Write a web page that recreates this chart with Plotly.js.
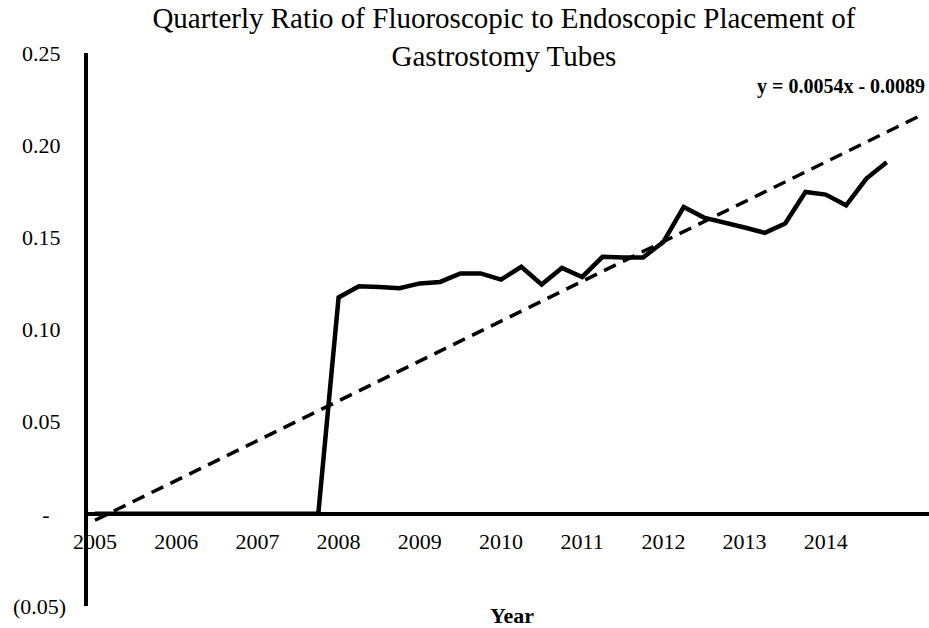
<!DOCTYPE html>
<html>
<head>
<meta charset="utf-8">
<script src="https://cdn.plot.ly/plotly-3.0.1.min.js"></script>
<style>html,body{margin:0;padding:0;background:#fff;}#chart{width:929px;height:628px;}</style>
</head>
<body>
<div id="chart"></div>
<script>
// Quarterly periods: 2005 Q1 .. 2014 Q4
const startYear = 2005;
const quarterLabels = [];
for (let y = 2005; y <= 2014; y++) for (let q = 1; q <= 4; q++) quarterLabels.push(y + " Q" + q);

// Ratio of fluoroscopic to endoscopic placement, per quarter
const ratio2005 = [0, 0, 0, 0];
const ratio2006 = [0, 0, 0, 0];
const ratio2007 = [0, 0, 0, 0];
const ratio2008 = [0.1174, 0.1235, 0.1230, 0.1224];
const ratio2009 = [0.1250, 0.1258, 0.1304, 0.1304];
const ratio2010 = [0.1271, 0.1340, 0.1244, 0.1334];
const ratio2011 = [0.1285, 0.1394, 0.1391, 0.1391];
const ratio2012 = [0.1475, 0.1665, 0.1607, 0.1583];
const ratio2013 = [0.1553, 0.1524, 0.1575, 0.1746];
const ratio2014 = [0.1732, 0.1674, 0.1819, 0.1908];
const ratios = [].concat(ratio2005, ratio2006, ratio2007, ratio2008, ratio2009,
                         ratio2010, ratio2011, ratio2012, ratio2013, ratio2014);

// Linear trendline as shown: y = 0.0054x - 0.0089 (x = period index), forecast forward
const trendSlope = 0.0054;
const trendIntercept = -0.0089;
const trendPeriods = [1, 41.7];

const yTickVals = [-0.05, 0, 0.05, 0.10, 0.15, 0.20, 0.25];
const yTickText = ["(0.05)", "-\u00A0\u00A0\u00A0", "0.05\u00A0", "0.10\u00A0", "0.15\u00A0", "0.20\u00A0", "0.25\u00A0"];
const xTickVals = [2005, 2006, 2007, 2008, 2009, 2010, 2011, 2012, 2013, 2014];
const xTickText = ["2005", "2006", "2007", "2008", "2009", "2010", "2011", "2012", "2013", "2014"];

const periodToX = n => startYear + (n - 1) / 4;
const xs = quarterLabels.map((_, i) => periodToX(i + 1));

const serif = "Liberation Serif, Times New Roman, serif";

const traces = [
  {
    x: trendPeriods.map(periodToX),
    y: trendPeriods.map(n => trendSlope * n + trendIntercept),
    mode: "lines",
    line: {color: "#000", width: 3.5, dash: "13px,8px"},
    hoverinfo: "skip",
    showlegend: false
  },
  {
    x: xs,
    y: ratios,
    text: quarterLabels,
    mode: "lines",
    line: {color: "#000", width: 4.5},
    showlegend: false
  }
];

const layout = {
  width: 929,
  height: 628,
  margin: {l: 88, r: 0, t: 53, b: 22},
  paper_bgcolor: "#fff",
  plot_bgcolor: "#fff",
  font: {family: serif, color: "#000", size: 22},
  title: {
    text: "Quarterly Ratio of Fluoroscopic to Endoscopic Placement of<br>Gastrostomy Tubes",
    font: {family: serif, size: 29, color: "#000"},
    x: 0.4946, xref: "paper", xanchor: "center",
    y: 0.955, yref: "container", yanchor: "middle"
  },
  xaxis: {
    range: [2004.914, 2015.271],
    anchor: "free",
    position: 1 / 6,
    showline: true,
    linecolor: "#000",
    linewidth: 4.5,
    showgrid: false,
    zeroline: false,
    ticks: "",
    tickmode: "array",
    tickvals: xTickVals,
    ticktext: xTickText,
    ticklabelstandoff: 6,
    tickfont: {family: serif, size: 22, color: "#000"}
  },
  yaxis: {
    range: [-0.05, 0.25],
    showline: true,
    linecolor: "#000",
    linewidth: 4.5,
    showgrid: false,
    zeroline: false,
    ticks: "",
    tickmode: "array",
    tickvals: yTickVals,
    ticktext: yTickText,
    ticklabelstandoff: 13,
    tickfont: {family: serif, size: 22, color: "#000"}
  },
  annotations: [
    {
      text: "<b>y = 0.0054x - 0.0089</b>",
      xref: "paper", yref: "paper",
      x: 0.9976, y: 0.940, xanchor: "right", yanchor: "middle",
      showarrow: false,
      font: {family: serif, size: 20, color: "#000"}
    },
    {
      text: "<b>Year</b>",
      xref: "paper", yref: "paper",
      x: 0.504, y: -0.0163, xanchor: "center", yanchor: "middle",
      showarrow: false,
      font: {family: serif, size: 22, color: "#000"}
    }
  ]
};

Plotly.newPlot("chart", traces, layout, {displayModeBar: false, staticPlot: true});
</script>
</body>
</html>
